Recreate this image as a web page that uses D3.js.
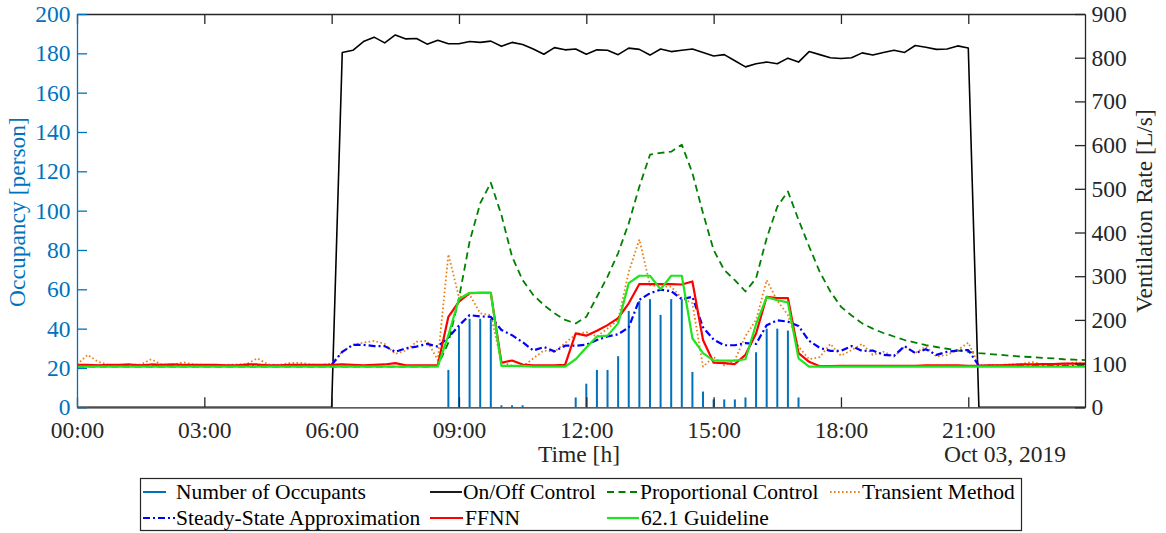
<!DOCTYPE html>
<html><head><meta charset="utf-8">
<script src="https://cdn.jsdelivr.net/npm/d3@7"></script>
<style>
body{margin:0;background:#fff}
svg{display:block}
text{font-family:"Liberation Serif","Times New Roman",serif}
</style>
</head><body>
<svg id="c" width="1166" height="533"></svg>
<script>
// 15-minute samples, 00:00 .. 23:45 on Oct 03, 2019
const occupancy = [
 0,0,0,0,0,0,0,0,0,0,
 0,0,0,0,0,0,0,0,0,0,
 0,0,0,0,0,0,0,0,0,0,
 0,0,0,0,0,19,41,45,45,45,
 1,1,1,0,0,0,0,5,12,19,
 19,26,49,54,55,47,55,55,18,8,
 4,4,4,5,28,40,40,39,5,0,
 0,0,0,0,0,0,0,0,0,0,
 0,0,0,0,0,0,0,0,0,0,
 0,0,0,0,0,0];
const onOffControl = [
 0,0,0,0,0,0,0,0,0,0,
 0,0,0,0,0,0,0,0,0,0,
 0,0,0,0,0,812,817,837,847,834,
 852,843,844,831,840,832,832,837,835,838,
 826,835,830,820,808,823,818,820,808,818,
 817,807,822,819,806,820,814,817,820,812,
 804,807,793,779,786,790,786,799,790,814,
 807,800,798,800,811,806,812,817,812,828,
 824,819,820,827,822,0,0,0,0,0,
 0,0,0,0,0,0];
const proportionalControl = [
 93,93,93,93,93,93,93,93,93,93,
 93,93,93,93,93,93,93,93,93,93,
 93,93,93,93,93,93,93,93,93,93,
 93,93,93,93,95,148,250,379,467,514,
 440,345,291,257,234,215,200,192,207,253,
 299,353,421,505,578,582,585,601,536,444,
 360,314,291,265,295,387,459,494,429,368,
 310,265,230,210,192,180,170,162,154,148,
 142,138,134,130,127,124,122,120,118,116,
 115,113,112,110,109,108];
const transientMethod = [
 98,120,104,97,97,97,98,110,98,97,
 103,98,97,97,97,98,99,112,98,97,
 101,102,98,97,100,127,143,148,152,145,
 122,130,150,152,108,350,252,258,215,211,
 104,95,93,112,130,127,147,167,172,162,
 180,200,310,384,280,276,276,250,238,93,
 115,96,108,163,200,291,244,211,139,110,
 115,145,118,131,145,120,127,116,139,124,
 139,116,120,131,148,97,97,97,98,99,
 104,98,97,98,103,99];
const steadyState = [
 95,95,95,95,95,95,95,95,95,95,
 95,95,95,95,95,95,95,95,95,95,
 95,95,95,95,97,127,143,143,140,140,
 127,135,139,145,139,160,187,211,208,207,
 177,165,149,130,138,128,141,141,143,154,
 162,167,183,246,261,269,266,247,253,183,
 155,142,142,147,145,188,199,196,186,152,
 136,129,129,140,129,130,120,118,140,124,
 133,120,127,130,131,95,95,95,95,95,
 95,95,95,95,95,95];
const ffnn = [
 97,97,96,97,97,98,96,98,97,98,
 97,97,97,97,96,96,98,98,96,96,
 97,97,97,97,97,98,97,96,97,98,
 101,96,96,96,96,207,242,261,262,262,
 102,107,98,96,96,96,97,169,164,175,
 188,204,238,282,282,282,282,281,288,154,
 102,101,99,120,169,253,250,250,124,104,
 94,94,95,95,95,95,95,95,95,95,
 96,96,96,96,95,95,96,96,97,98,
 98,99,99,100,100,100];
const guideline621 = [
 93,93,93,93,93,93,93,93,93,93,
 93,93,93,93,93,93,93,93,93,93,
 93,93,93,93,93,93,93,93,93,93,
 93,93,93,93,93,165,248,262,262,262,
 95,95,95,93,93,93,93,110,137,162,
 164,192,284,301,301,270,301,301,158,124,
 107,107,107,110,190,252,245,240,112,93,
 93,93,93,93,93,93,93,93,93,93,
 93,93,93,93,93,93,93,93,93,93,
 93,93,93,93,93,93];
const occTicks = [0,20,40,60,80,100,120,140,160,180,200];
const ventTicks = [0,100,200,300,400,500,600,700,800,900];
const timeTickLabels = ["00:00","03:00","06:00","09:00","12:00","15:00","18:00","21:00"];

const t0 = new Date(2019, 9, 3, 0, 0);
const times = occupancy.map((_, i) => new Date(t0.getTime() + i * 15 * 60000));
const tickTimes = timeTickLabels.map(s => new Date(2019, 9, 3, +s.slice(0,2), 0));

const L = 77, R = 1085, T = 14, B = 407.3;
const svg = d3.select("#c");
const x = d3.scaleTime().domain([times[0], times[times.length-1]]).range([L, R]);
const yL = d3.scaleLinear().domain([0, 200]).range([B, T]);
const yR = d3.scaleLinear().domain([0, 900]).range([B, T]);

const FS = 23.5;
const FF = '"Liberation Serif","Times New Roman",serif';
const blueAxis = "#0072BD", dark = "#262626";

svg.append("defs").append("clipPath").attr("id","clip")
  .append("rect").attr("x",L).attr("y",T).attr("width",R-L).attr("height",B-T);

// bars
const gData = svg.append("g").attr("clip-path","url(#clip)");
gData.selectAll("rect.bar").data(occupancy).join("rect")
  .attr("class","bar")
  .attr("x",(d,i)=>x(times[i])-1).attr("width",2)
  .attr("y",d=>yL(d)).attr("height",d=>B-yL(d))
  .attr("fill","#0072BD");

const line = d3.line().x((d,i)=>x(times[i])).y(d=>yR(d));
const series = [
  {v:onOffControl, c:"#000000", w:1.6, dash:null},
  {v:proportionalControl, c:"#008000", w:1.8, dash:"7,4.5"},
  {v:transientMethod, c:"#E5801A", w:1.8, dash:"1.6,2.4"},
  {v:steadyState, c:"#0000FF", w:2.2, dash:"7,3,2,3"},
  {v:ffnn, c:"#FF0000", w:2.2, dash:null},
  {v:guideline621, c:"#1EE61E", w:2.2, dash:null}
];
series.forEach(s=>{
  gData.append("path").attr("d",line(s.v)).attr("fill","none")
    .attr("stroke",s.c).attr("stroke-width",s.w)
    .attr("stroke-dasharray",s.dash).attr("stroke-linejoin","round");
});

// axes
const ax = svg.append("g").attr("font-family",FF);
const xb = ax.append("g").attr("transform",`translate(0,${B})`)
  .call(d3.axisBottom(x).tickValues(tickTimes).tickFormat((d,i)=>timeTickLabels[i]).tickSizeInner(-10).tickSizeOuter(0).tickPadding(12));
const xt = ax.append("g").attr("transform",`translate(0,${T})`)
  .call(d3.axisTop(x).tickValues(tickTimes).tickFormat("").tickSizeInner(-10).tickSizeOuter(0));
const yl = ax.append("g").attr("transform",`translate(${L},0)`)
  .call(d3.axisLeft(yL).tickValues(occTicks).tickSizeInner(-10).tickSizeOuter(0).tickPadding(6.5));
const yr = ax.append("g").attr("transform",`translate(${R},0)`)
  .call(d3.axisRight(yR).tickValues(ventTicks).tickSizeInner(-10).tickSizeOuter(0).tickPadding(6.5));

[xb,xt,yl,yr].forEach(g=>g.attr("font-family",FF));
[xb,xt,yr].forEach(g=>{
  g.selectAll("path,line").attr("stroke",dark).attr("stroke-width",1.3);
  g.selectAll("text").attr("fill",dark);
});
yl.selectAll("path,line").attr("stroke",blueAxis).attr("stroke-width",1.3);
yl.selectAll("text").attr("fill",blueAxis);
ax.selectAll("text").attr("font-size",FS).attr("font-family",FF);
xb.selectAll("text").attr("dy",null).attr("y",31);

// axis labels
svg.append("text").attr("transform",`translate(25,212) rotate(-90)`)
  .attr("text-anchor","middle").attr("font-size",FS).attr("fill",blueAxis).text("Occupancy [person]");
svg.append("text").attr("transform",`translate(1152,211) rotate(-90)`)
  .attr("text-anchor","middle").attr("font-size",FS).attr("fill",dark).text("Ventilation Rate [L/s]");
svg.append("text").attr("x",579).attr("y",462).attr("text-anchor","middle")
  .attr("font-size",FS).attr("fill",dark).text("Time [h]");
svg.append("text").attr("x",1066).attr("y",462).attr("text-anchor","end")
  .attr("font-size",FS).attr("fill",dark).text("Oct 03, 2019");

// legend
const lg = svg.append("g");
lg.append("rect").attr("x",140.5).attr("y",478.5).attr("width",881).attr("height",52)
  .attr("fill","#fff").attr("stroke",dark).attr("stroke-width",1.2);
const LFS = 21.5;
const items = [
  {t:"Number of Occupants", c:"#0072BD", w:2, dash:null, x0:143, x1:166, tx:176, row:0},
  {t:"On/Off Control", c:"#000", w:1.8, dash:null, x0:430, x1:462, tx:463, row:0},
  {t:"Proportional Control", c:"#008000", w:1.8, dash:"7,4.5", x0:607, x1:637, tx:640, row:0},
  {t:"Transient Method", c:"#E5801A", w:1.8, dash:"1.6,2.4", x0:830, x1:861, tx:862, row:0},
  {t:"Steady-State Approximation", c:"#0000FF", w:2.2, dash:"7,3,2,3", x0:143, x1:175, tx:176, row:1},
  {t:"FFNN", c:"#FF0000", w:2.2, dash:null, x0:430, x1:463, tx:465, row:1},
  {t:"62.1 Guideline", c:"#1EE61E", w:2.2, dash:null, x0:607, x1:639, tx:641, row:1}
];
items.forEach(it=>{
  const yy = it.row ? 518 : 492;
  lg.append("line").attr("x1",it.x0).attr("x2",it.x1).attr("y1",yy).attr("y2",yy)
    .attr("stroke",it.c).attr("stroke-width",it.w).attr("stroke-dasharray",it.dash);
  lg.append("text").attr("x",it.tx).attr("y",yy+7).attr("font-size",LFS).attr("fill","#000").text(it.t);
});
</script>
</body></html>
